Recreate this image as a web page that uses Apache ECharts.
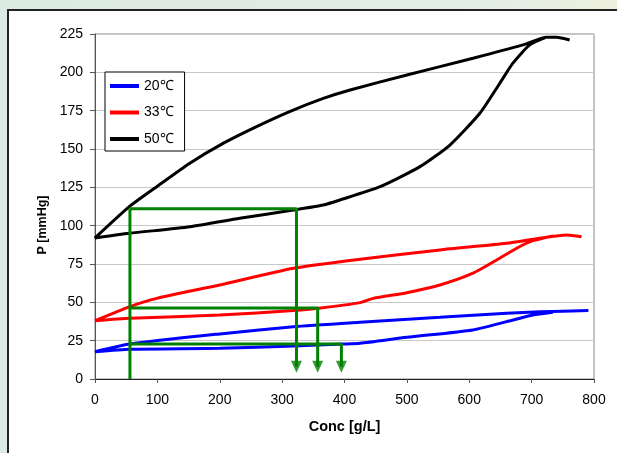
<!DOCTYPE html>
<html>
<head>
<meta charset="utf-8">
<script src="https://cdn.jsdelivr.net/npm/echarts@6/dist/echarts.min.js"></script>
<style>
  html, body { margin: 0; padding: 0; }
  #main { width: 617px; height: 453px; }
</style>
</head>
<body>
<div id="main"></div>
<script>
// 数据：[浓度 g/L, 压力 mmHg]
var names = ['20℃', '33℃', '50℃'];
var colors = ['#0000ff', '#ff0000', '#000000'];

var blueUpper = [[0, 17.8], [56, 22.8], [200, 29.4], [318, 34.1], [425, 37], [553, 40.2], [660, 42.9], [713, 43.9], [791, 44.6]];
var blueLower = [[0, 17.8], [56, 19.4], [200, 20], [318, 21.5], [397, 22.8], [425, 23.3], [500, 27.2], [606, 32], [660, 37.4], [702, 41.7], [734, 43.5]];

var redUpper = [[0, 38], [56, 47.2], [99, 52.6], [200, 61.3], [318, 72.2], [425, 78.1], [553, 84.2], [660, 88.5], [713, 91.8], [756, 93.9], [780, 92.8]];
var redLower = [[0, 38], [56, 39.6], [200, 41.7], [318, 44.6], [362, 46.3], [425, 49.8], [446, 52.6], [500, 56.3], [553, 61.3], [606, 69], [644, 77.6], [676, 85.3], [702, 90.2], [734, 93.3]];

var blackUpper = [[0, 92], [55, 112.4], [99, 125.4], [152, 140.7], [206, 153.8], [259, 164.6], [312, 174.4], [366, 183], [409, 188.5], [500, 198.3], [606, 209.2], [686, 217.9], [724, 222.9], [740, 222.9], [761, 221.1]];
var blackLower = [[0, 92], [55, 95], [152, 99.3], [232, 104.8], [318, 110.2], [366, 113.5], [393, 116.8], [457, 125.4], [521, 138.5], [569, 152.6], [617, 173.3], [649, 192.9], [670, 206], [697, 217.9], [724, 222.9]];

// 绿色辅助线
var guideStartX = 56;
var guideLevels = [111, 46.3, 22.8];
var guideEndX = [323, 357, 395];
var arrowY = 8;

var xTicks = { min: 0, max: 800, interval: 100 };
var yTicks = { min: 0, max: 225, interval: 25 };

function loop(lower, upper) {
    // 从峰值沿下支回到原点，再沿上支走到尾端
    return lower.slice().reverse().concat(upper.slice(1));
}

var curves = [loop(blueLower, blueUpper), loop(redLower, redUpper), loop(blackLower, blackUpper)];

var series = curves.map(function (d, i) {
    return {
        name: names[i],
        type: 'line',
        data: d,
        showSymbol: false,
        smooth: 0.2,
        lineStyle: { color: colors[i], width: 3 },
        itemStyle: { color: colors[i] },
        z: 3
    };
});

var green = '#008000';
series.push({
    type: 'line',
    data: [[guideStartX, 0], [guideStartX, guideLevels[0]]],
    showSymbol: false,
    lineStyle: { color: green, width: 3 },
    z: 4
});
guideLevels.forEach(function (lv, i) {
    series.push({
        type: 'line',
        data: [[guideStartX, lv], [guideEndX[i], lv], [guideEndX[i], arrowY]],
        showSymbol: false,
        lineStyle: { color: green, width: 3 },
        z: 4
    });
});
series.push({
    type: 'scatter',
    data: guideEndX.map(function (x) { return [x, arrowY]; }),
    symbol: 'triangle',
    symbolRotate: 180,
    symbolSize: [11, 12],
    itemStyle: { color: green },
    z: 5
});

var font = 'Liberation Sans, Arial, sans-serif';
var myChart = echarts.init(document.getElementById('main'));
myChart.setOption({
    animation: false,
    backgroundColor: {
        type: 'linear', x: 0, y: 0, x2: 1, y2: 0,
        colorStops: [{ offset: 0, color: '#dbeae2' }, { offset: 0.8, color: '#e3eee6' }, { offset: 1, color: '#eef1dc' }]
    },
    graphic: [
        {
            type: 'rect',
            z: -100,
            shape: { x: 8, y: 10, width: 700, height: 500 },
            style: { fill: '#ffffff', stroke: '#222222', lineWidth: 2 }
        },
        {
            type: 'text',
            x: 43,
            y: 225,
            rotation: Math.PI / 2,
            style: {
                text: 'P [mmHg]',
                fill: '#000',
                font: 'bold 12.5px ' + font,
                textAlign: 'center',
                textVerticalAlign: 'middle'
            }
        }
    ],
    grid: {
        left: 95, right: 23, top: 34, bottom: 74,
        show: true, borderColor: '#888', borderWidth: 1, backgroundColor: '#fff'
    },
    legend: {
        data: names,
        orient: 'vertical',
        left: 105,
        top: 72,
        padding: [7, 11, 5, 5],
        itemGap: 12.5,
        itemWidth: 29,
        itemHeight: 4,
        icon: 'rect',
        borderColor: '#000',
        borderWidth: 1,
        backgroundColor: '#fff',
        textStyle: { fontSize: 14, color: '#000', fontFamily: font }
    },
    xAxis: {
        type: 'value',
        min: xTicks.min, max: xTicks.max, interval: xTicks.interval,
        name: 'Conc [g/L]',
        nameLocation: 'middle',
        nameGap: 40,
        nameTextStyle: { fontWeight: 'bold', fontSize: 14.5, color: '#000', fontFamily: font },
        axisLine: { onZero: false, lineStyle: { color: '#222', width: 1 } },
        axisTick: { show: true, length: 4, lineStyle: { color: '#555' } },
        axisLabel: { fontSize: 14, color: '#000', margin: 14, fontFamily: font },
        splitLine: { show: false }
    },
    yAxis: {
        type: 'value',
        min: yTicks.min, max: yTicks.max, interval: yTicks.interval,
        axisLine: { show: true, lineStyle: { color: '#555', width: 1 } },
        axisTick: { show: true, length: 5, lineStyle: { color: '#555' } },
        axisLabel: { fontSize: 14, color: '#000', margin: 12, fontFamily: font },
        splitLine: { show: true, lineStyle: { color: '#c8c8c8', width: 1 } }
    },
    series: series
});
</script>
</body>
</html>
